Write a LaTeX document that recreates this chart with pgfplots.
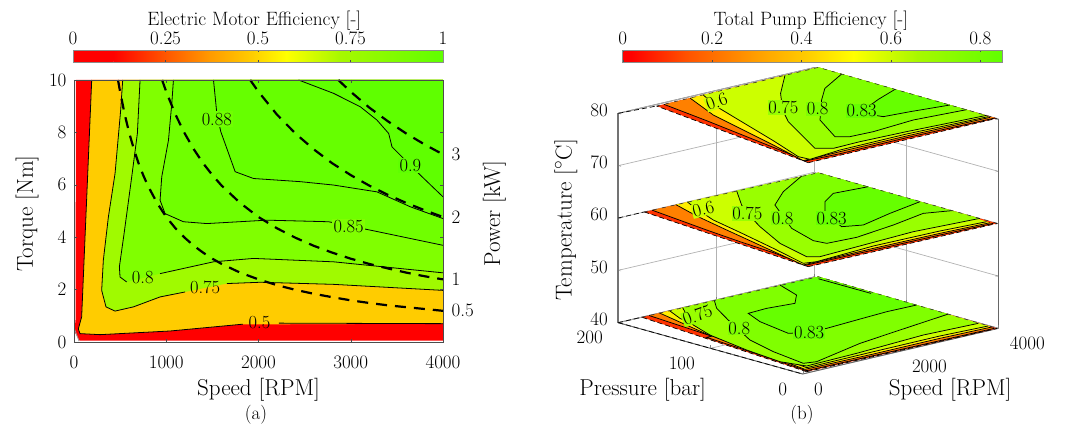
\documentclass[border=0pt]{standalone}
\usepackage{fontspec}
\usepackage{pgfplots}
\pgfplotsset{compat=1.18}
\newcommand\fl{\fontsize{23}{27}\selectfont}
\newcommand\ft{\fontsize{19}{22}\selectfont}
\newcommand\fc{\fontsize{18.5}{21}\selectfont}
\definecolor{cgold}{HTML}{FFCC00}
\definecolor{la}{HTML}{A0FA00}
\definecolor{lb}{HTML}{80FF00}
\definecolor{lc}{HTML}{70FF00}
\definecolor{ld}{HTML}{66FF00}
\definecolor{le}{HTML}{5FFF00}
\definecolor{ra}{HTML}{FF3300}
\definecolor{rb}{HTML}{FF8000}
\definecolor{rc}{HTML}{FFEE00}
\definecolor{rd}{HTML}{CCFF00}
\definecolor{re}{HTML}{99FF00}
\definecolor{rf}{HTML}{80FF00}
\definecolor{rg}{HTML}{66FF00}
\definecolor{g1}{HTML}{FF5000}
\definecolor{g2}{HTML}{FF9A00}
\definecolor{g3}{HTML}{FFD000}
\definecolor{g4}{HTML}{FFFF00}
\definecolor{g5}{HTML}{A8F800}
\newcommand\band[3]{\addplot3[fill=#1,draw=none] coordinates {#2 #3};
 \addplot3[black,line width=0.75pt] coordinates {#2};}
\newcommand\seg[3]{\addplot[draw=none,left color=#1,right color=#2] coordinates {#3};}
\tikzset{edge/.style={black,line width=0.7pt,dash pattern=on 5pt off 3pt},
 back/.style={black!80,line width=0.6pt,dash pattern=on 4pt off 5pt}}
\begin{document}
\begin{tikzpicture}[x=1pt,y=1pt]
\useasboundingbox (0,0) rectangle (1073pt,425pt);
% ---------- colour bar (a)
\begin{axis}[at={(73pt,363pt)},anchor=south west,scale only axis,width=370pt,height=11.5pt,
 xmin=0,xmax=1,ymin=0,ymax=1,ytick=\empty,axis on top,
 xtick={0,0.25,0.5,0.75,1},xticklabels={0,0.25,0.5,0.75,1},xticklabel pos=upper,
 tick align=inside,major tick length=1.5pt,tick style={black!70},axis line style={black!45,line width=0.7pt},
 tick label style={font=\ft},xticklabel style={yshift=2pt},
 title={Electric Motor Efficiency [-]},title style={font=\fontsize{19.3}{22}\selectfont,at={(axis description cs:0.49,3.1)},anchor=center}]
\seg{red}{red}{(0,0)(0.11,0)(0.11,1)(0,1)}
\seg{red}{g1}{(0.109,0)(0.24,0)(0.24,1)(0.109,1)}
\seg{g1}{g2}{(0.239,0)(0.37,0)(0.37,1)(0.239,1)}
\seg{g2}{g3}{(0.369,0)(0.49,0)(0.49,1)(0.369,1)}
\seg{g3}{g4}{(0.489,0)(0.577,0)(0.577,1)(0.489,1)}
\seg{g4}{g5}{(0.576,0)(0.72,0)(0.72,1)(0.576,1)}
\seg{g5}{le}{(0.719,0)(1,0)(1,1)(0.719,1)}
\end{axis}
% ---------- panel (a)
\begin{axis}[at={(74pt,83pt)},anchor=south west,scale only axis,width=369pt,height=262pt,
 xmin=0,xmax=4000,ymin=0,ymax=10,axis on top,
 xtick={0,1000,2000,3000,4000},xticklabels={0,1000,2000,3000,4000},
 ytick={0,2,4,6,8,10},yticklabels={0,2,4,6,8,10},
 tick align=inside,major tick length=3pt,axis line style={black!70,line width=0.9pt},tick style={black!70},
 tick label style={font=\ft},
 xticklabel style={yshift=-10pt},yticklabel style={xshift=-4pt},
 xlabel={Speed [RPM]},ylabel={Torque [Nm]},
 label style={font=\fl},
 xlabel style={at={(axis description cs:0.5,-0.182)},anchor=center},
 ylabel style={at={(axis description cs:-0.127,0.49)},anchor=center,rotate=0},
 ]
\addplot[fill=red,draw=none] coordinates {(20,10)(18,0.9)(5,0.4)(60,0.05)(4000,0.05)(4000,10)};
\addplot[black!40,line width=0.8pt] coordinates {(5,0.5)(55,0.03)};
\addplot[fill=cgold,draw=none] coordinates {(192,10)(83,0.96)(47,0.5)(65,0.32)(282,0.28)(1042,0.42)(1800,0.67)(4000,0.70)(4000,10)};
\addplot[black,line width=0.8pt] coordinates {(192,10)(83,0.96)(47,0.5)(65,0.32)(282,0.28)(1042,0.42)(1800,0.67)(1830,0.68)};
\addplot[black,line width=0.8pt] coordinates {(2220,0.72)(4000,0.70)};
\addplot[fill=la,draw=none] coordinates {(528,10)(506,8.85)(445,6.43)(373,4.78)(318,3.12)(300,1.97)(347,1.34)(445,1.18)(644,1.34)(933,1.72)(1204,1.91)(1657,2.23)(2018,2.28)(2814,2.20)(4000,1.97)(4000,10)};
\addplot[black,line width=0.8pt] coordinates {(528,10)(506,8.85)(445,6.43)(373,4.78)(318,3.12)(300,1.97)(347,1.34)(445,1.18)(644,1.34)(933,1.72)(1204,1.91)};
\addplot[black,line width=0.8pt] coordinates {(1657,2.23)(2018,2.28)(2814,2.20)(4000,1.97)};
\addplot[fill=lb,draw=none] coordinates {(716,10)(687,7.96)(626,6.31)(543,4.14)(492,2.87)(499,2.48)(571,2.29)(933,2.61)(1512,3.06)(1946,3.19)(2814,3.06)(4000,2.64)(4000,10)};
\addplot[black,line width=0.8pt] coordinates {(716,10)(687,7.96)(626,6.31)(543,4.14)(492,2.87)(499,2.48)(571,2.29)};
\addplot[black,line width=0.8pt] coordinates {(933,2.61)(1512,3.06)(1946,3.19)(2814,3.06)(4000,2.64)};
\addplot[fill=lc,draw=none] coordinates {(1078,10)(1060,9.1)(1024,7.7)(951,6.3)(933,5.41)(987,4.9)(1186,4.59)(1440,4.52)(2091,4.65)(2760,4.59)(3212,4.27)(4000,3.69)(4000,10)};
\addplot[black,line width=0.8pt] coordinates {(1078,10)(1060,9.1)(1024,7.7)(951,6.3)(933,5.41)(987,4.9)(1186,4.59)(1440,4.52)(2091,4.65)(2760,4.59)(3212,4.27)(4000,3.69)};
\addplot[fill=ld,draw=none] coordinates {(1512,10)(1548,8.73)(1591,8.03)(1747,6.5)(1946,6.24)(2452,6.12)(2814,5.99)(3284,5.73)(3646,5.16)(4000,4.71)(4000,10)};
\addplot[black,line width=0.8pt] coordinates {(1512,10)(1548,8.73)(1591,8.03)(1747,6.5)(1946,6.24)(2452,6.12)(2814,5.99)(3284,5.73)(3646,5.16)(4000,4.71)};
\addplot[fill=le,draw=none] coordinates {(2434,10)(2814,9.49)(3103,8.98)(3284,8.47)(3411,7.96)(3447,7.45)(3537,7.13)(3772,6.31)(4000,5.54)(4000,10)};
\addplot[black,line width=0.8pt] coordinates {(2434,10)(2814,9.49)(3103,8.98)(3284,8.47)(3411,7.96)(3447,7.45)(3537,7.13)(3772,6.31)(4000,5.54)};
% power curves
\addplot[black,line width=2.2pt,dash pattern=on 11pt off 8pt] coordinates {(2865,10)(3000,9.55)(3200,8.95)(3400,8.43)(3600,7.96)(3800,7.54)(4000,7.16)};
\addplot[black,line width=2.2pt,dash pattern=on 11pt off 8pt] coordinates {(1910,10)(2000,9.55)(2200,8.68)(2400,7.96)(2600,7.35)(2800,6.82)(3000,6.37)(3200,5.97)(3400,5.62)(3600,5.31)(3800,5.03)(4000,4.77)};
\addplot[black,line width=2.2pt,dash pattern=on 11pt off 8pt] coordinates {(955,10)(1000,9.55)(1100,8.68)(1200,7.96)(1300,7.35)(1400,6.82)(1500,6.37)(1600,5.97)(1800,5.31)(2000,4.77)(2200,4.34)(2400,3.98)(2600,3.67)(2800,3.41)(3000,3.18)(3200,2.98)(3400,2.81)(3600,2.65)(3800,2.51)(4000,2.39)};
\addplot[black,line width=2.2pt,dash pattern=on 11pt off 8pt] coordinates {(477,10)(500,9.55)(550,8.68)(600,7.96)(650,7.35)(700,6.82)(750,6.37)(800,5.97)(900,5.31)(1000,4.77)(1100,4.34)(1200,3.98)(1300,3.67)(1400,3.41)(1500,3.18)(1600,2.98)(1800,2.65)(2000,2.39)(2200,2.17)(2400,1.99)(2600,1.84)(2800,1.71)(3000,1.59)(3200,1.49)(3400,1.40)(3600,1.33)(3800,1.26)(4000,1.19)};
\tikzset{cl/.style={font=\fc,inner sep=1.5pt}}
\node[cl,fill=lc] at (axis cs:1548,8.51) {0.88};
\node[cl,fill=lb] at (axis cs:2977,4.39) {0.85};
\node[cl] at (axis cs:745,2.45) {0.8};
\node[cl] at (axis cs:1421,2.08) {0.75};
\node[cl] at (axis cs:2011,0.73) {0.5};
\node[cl,fill=le] at (axis cs:3646,6.73) {0.9};
\end{axis}
\begin{axis}[at={(74pt,83pt)},anchor=south west,scale only axis,width=369pt,height=262pt,
 xmin=0,xmax=4000,ymin=0,ymax=10,axis x line=none,axis y line=right,
 ytick={1.19,2.39,4.77,7.16},yticklabels={0.5,1,2,3},major tick length=0pt,
 axis line style={draw=none},
 yticklabel style={font=\ft,anchor=west,xshift=5pt},
 ylabel={Power [kW]},ylabel style={font=\fl,at={(axis description cs:1.139,0.49)},anchor=center,rotate=0}]
\end{axis}
% ---------- colour bar (b)
\begin{axis}[at={(622.7pt,363pt)},anchor=south west,scale only axis,width=380pt,height=11.5pt,
 xmin=0,xmax=0.85,ymin=0,ymax=1,ytick=\empty,axis on top,
 xtick={0,0.2,0.4,0.6,0.8},xticklabels={0,0.2,0.4,0.6,0.8},xticklabel pos=upper,
 tick align=inside,major tick length=1.5pt,tick style={black!70},axis line style={black!45,line width=0.7pt},
 tick label style={font=\ft},xticklabel style={yshift=2pt},
 title={Total Pump Efficiency [-]},title style={font=\fontsize{19.3}{22}\selectfont,at={(axis description cs:0.495,3.1)},anchor=center}]
\seg{red}{red}{(0,0)(0.02,0)(0.02,1)(0,1)}
\seg{red}{g1}{(0.019,0)(0.14,0)(0.14,1)(0.019,1)}
\seg{g1}{g2}{(0.139,0)(0.29,0)(0.29,1)(0.139,1)}
\seg{g2}{g3}{(0.289,0)(0.42,0)(0.42,1)(0.289,1)}
\seg{g3}{g4}{(0.419,0)(0.516,0)(0.516,1)(0.419,1)}
\seg{g4}{g5}{(0.515,0)(0.66,0)(0.66,1)(0.515,1)}
\seg{g5}{le}{(0.659,0)(0.85,0)(0.85,1)(0.659,1)}
\end{axis}
% ---------- panel (b)
\begin{axis}[at={(618.3pt,51pt)},anchor=south west,
 x={(0.048917pt,0.011417pt)},y={(-0.92167pt,0.25667pt)},z={(0pt,5.2333pt)},
 xmin=0,xmax=4000,ymin=0,ymax=200,zmin=40,zmax=80,clip=false,
 xtick={0,2000,4000},xticklabels={0,2000,4000},
 ytick={0,100,200},yticklabels={0,100,200},
 ztick={40,50,60,70,80},zticklabels={40,50,60,70,80},
 grid=major,grid style={black!30,line width=0.7pt},
 tick align=inside,major tick length=3pt,axis line style={black!60,line width=0.9pt},
 tick label style={font=\ft},
 xticklabel style={anchor=west,xshift=8pt,yshift=-15pt},
 yticklabel style={anchor=east,xshift=-12pt,yshift=-15pt},
 zticklabel style={xshift=-7pt,yshift=3pt},
 xlabel={Speed [RPM]},ylabel={Pressure [bar]},zlabel={Temperature [$^\circ$C]},
 label style={font=\fl},
 xlabel style={at={(axis description cs:0.873,-0.053)},anchor=center,rotate=0},
 ylabel style={at={(axis description cs:0.064,-0.053)},anchor=center,rotate=0},
 zlabel style={at={(axis description cs:-0.138,0.503)},anchor=center,rotate=0},
 ]
\addplot3[black!55,line width=1.8pt] coordinates {(0,200,40)(0,200,80)};
% bottom slice z=40
\addplot3[fill=ra,draw=none] coordinates {(480,200,40)(4061,198.5,40)(3988,0.5,40)(137,2.9,40)};
\band{rb}{(629,200,40)(500,125.2,40)(396,125.2,40)(328,85.4,40)(260,45.6,40)(177,5.1,40)(1518,3.9,40)(2858,2.8,40)(3951,2.1,40)}{(4061,198.5,40)}
\band{rc}{(844,200,40)(529,132.3,40)(421,90.4,40)(340,49.8,40)(212,8.7,40)(1585,7.4,40)(2951,7.7,40)(3979,6.1,40)}{(4061,198.5,40)}
\band{rd}{(1048,200,40)(859,178.7,40)(649,138.7,40)(528,96,40)(433,54.8,40)(297,11.4,40)(1678,12.3,40)(3044,12.7,40)(3982,10,40)}{(4061,198.5,40)}
\band{re}{(1316,200,40)(1066,182.5,40)(741,158,40)(526,128.5,40)(335,78.6,40)(240,37.3,40)(363,15,40)(1426,17.1,40)(2899,23,40)(3977,20.5,40)}{(4061,198.5,40)}
\band{rf}{(1962,200,40)(1666,181.7,40)(1329,151.3,40)(772,98.2,40)(566,61.8,40)(433,22.3,40)(648,19.2,40)(1863,36.6,40)(2839,45.1,40)(4016,55.1,40)}{(4061,198.5,40)}
\band{rg}{(3302,199.9,40)(3087,170.5,40)(2737,153.6,40)(2222,157,40)(1818,155.5,40)(1616,132,40)(1465,93.3,40)(1727,85.5,40)(2090,84.9,40)(2757,87.8,40)(3423,90.5,40)(4023,89.9,40)}{(4061,198.5,40)}
\addplot3[black,line width=0.75pt] coordinates {(3980,194,40)(3980,174,40)(3980,137,40)};
\addplot3[edge] coordinates {(137,2.9,40)(480,200,40)};
\addplot3[edge] coordinates {(137,2.9,40)(3988,0.5,40)};
\addplot3[edge] coordinates {(0,200,40)(480,200,40)};
\addplot3[edge] coordinates {(0,200,40)(0,0,40)};
\addplot3[back] coordinates {(480,200,40)(4061,198.5,40)(3988,0.5,40)};
% middle slice z=60
\addplot3[fill=ra,draw=none] coordinates {(531,200,60)(4034,197.1,60)(4002,1.2,60)(169,2.9,60)};
\band{rb}{(690,200,60)(503,130.9,60)(408,89.6,60)(340,49.8,60)(217,7.2,60)(1558,6,60)(2898,4.9,60)(3957,3.2,60)}{(4034,197.1,60)}
\band{rc}{(1175,200,60)(951,165.4,60)(726,121,60)(439,62.3,60)(180,8.9,60)(1625,9.5,60)(2964,8.4,60)(3946,6.2,60)}{(4034,197.1,60)}
\band{rd}{(1412,200,60)(1286,186.9,60)(977,148.8,60)(780,109.4,60)(513,59,60)(247,12.4,60)(462,9.4,60)(1718,14.5,60)(3058,13.4,60)(3949,10,60)}{(4034,197.1,60)}
\band{re}{(2407,199.4,60)(1891,166.6,60)(1621,146.1,60)(1230,111.5,60)(786,66.3,60)(550,24.9,60)(699,18.3,60)(1864,22.2,60)(2735,25.1,60)(4008,20.4,60)}{(4034,197.1,60)}
\band{rf}{(3716,198.3,60)(2886,174.2,60)(2261,150.1,60)(1515,92.3,60)(1264,55.5,60)(1305,43.2,60)(1879,41.1,60)(2778,49.1,60)(3578,59,60)(4000,50.7,60)}{(4034,197.1,60)}
\band{rg}{(4031,142.7,60)(3376,145.9,60)(2950,132.4,60)(2484,107.7,60)(2138,71.1,60)(2445,64,60)(3207,75.5,60)(4007,85.4,60)}{(4034,197.1,60)}
\addplot3[edge] coordinates {(169,2.9,60)(531,200,60)};
\addplot3[edge] coordinates {(169,2.9,60)(4002,1.2,60)};
\addplot3[edge] coordinates {(0,200,60)(531,200,60)};
\addplot3[back] coordinates {(531,200,60)(4034,197.1,60)(4002,1.2,60)};
% top slice z=80
\addplot3[fill=ra,draw=none] coordinates {(719,196.6,80)(4061,198.5,80)(4007,2.2,80)(143,1.4,80)};
\band{rb}{(867,196.5,80)(689,140.8,80)(366,51.2,80)(204,6.5,80)(854,4.8,80)(2235,5.8,80)(4002,3.8,80)}{(4061,198.5,80)}
\band{rc}{(1409,197,80)(990,149.5,80)(754,108,80)(459,56.2,80)(167,8.2,80)(934,9.1,80)(2302,9.4,80)(3973,7.6,80)}{(4061,198.5,80)}
\band{rd}{(1677,196.8,80)(1360,165.4,80)(1060,124.3,80)(632,65.4,80)(271,19.1,80)(295,7.7,80)(1001,12.6,80)(2382,13.6,80)(3982,10,80)}{(4061,198.5,80)}
\band{re}{(3371,198.1,80)(2603,162.1,80)(1961,125.8,80)(1558,98.3,80)(789,28.5,80)(993,19.4,80)(1556,20.4,80)(2475,18.6,80)(4016,13.6,80)}{(4061,198.5,80)}
\band{rf}{(4054,172.9,80)(3296,150.8,80)(2793,127.7,80)(1977,86.1,80)(1478,43.4,80)(1644,36,80)(2104,35,80)(3015,40,80)(4020,35.5,80)}{(4061,198.5,80)}
\band{rg}{(4035,114,80)(3450,101,80)(3046,90.4,80)(2769,70.3,80)(2814,61.9,80)(3310,59.2,80)(4020,53.6,80)}{(4061,198.5,80)}
\addplot3[edge] coordinates {(143,1.4,80)(719,196.6,80)};
\addplot3[edge] coordinates {(143,1.4,80)(4007,2.2,80)};
\addplot3[edge] coordinates {(0,200,80)(719,196.6,80)};
\addplot3[back] coordinates {(719,196.6,80)(4061,198.5,80)(4007,2.2,80)};
\tikzset{cr/.style={font=\fc,inner sep=0.8pt}}
\node[cr,fill=rd,rotate=20] at (axis cs:1560,176,80) {0.6};
\node[cr,fill=re] at (axis cs:2074,131,80) {0.75};
\node[cr,fill=rf] at (axis cs:2390,110.6,80) {0.8};
\node[cr,fill=rg] at (axis cs:2799,84.6,80) {0.83};
\node[cr,fill=rd,rotate=15] at (axis cs:1304,177,60) {0.6};
\node[cr,fill=re] at (axis cs:1621,146,60) {0.75};
\node[cr,fill=rf] at (axis cs:1814,118,60) {0.8};
\node[cr,fill=rg] at (axis cs:2359,93.8,60) {0.83};
\node[cr,fill=re,rotate=20] at (axis cs:1185,177,40) {0.75};
\node[cr,fill=rf] at (axis cs:1115,128,40) {0.8};
\node[cr,fill=rg] at (axis cs:1734,85,40) {0.83};
\end{axis}
\node[font=\fontsize{19}{22}\selectfont] at (256pt,10pt) {(a)};
\node[font=\fontsize{19}{22}\selectfont] at (802pt,10pt) {(b)};
\end{tikzpicture}
\end{document}
